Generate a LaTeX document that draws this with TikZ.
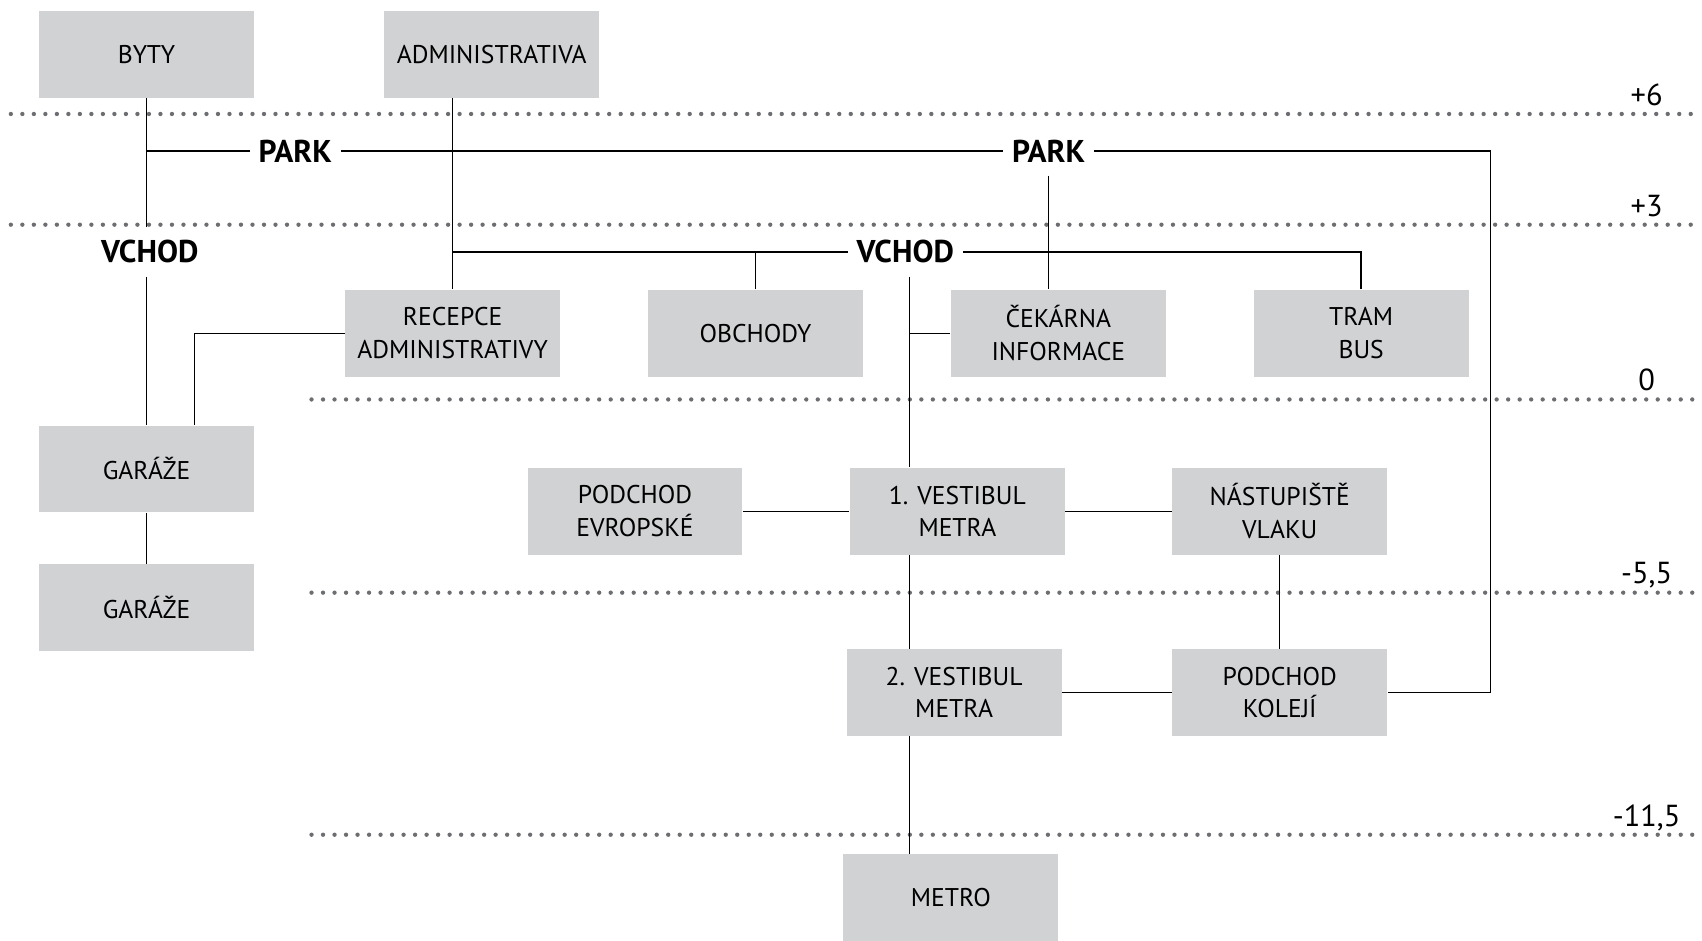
\documentclass[tikz,border=0pt]{standalone}
\usepackage{fontspec}
\setmainfont{PT Sans}
\definecolor{boxgray}{HTML}{D1D2D4}
\definecolor{dotgray}{HTML}{6D6E71}
\tikzset{
	room/.style={fill=boxgray, minimum width=99pt, minimum height=40pt, inner sep=0pt, align=center, font=\fontsize{11.8}{15}\selectfont},
	floorlab/.style={font=\bfseries\fontsize{14.5}{16}\selectfont, inner xsep=4pt, inner ysep=6pt},
	levellab/.style={anchor=base, font=\fontsize{14}{16}\selectfont},
	level/.style={dotgray, line width=2pt, line cap=round, dash pattern=on 0pt off 5.3pt},
	link/.style={line width=0.65pt}
}

\begin{document}
\begin{tikzpicture}[x=0.5pt, y=-0.5pt]
	\useasboundingbox (0,0) rectangle (1568,866);
	% floor levels
	\foreach \y/\xs/\h in {105/10/+6, 207/10/+3, 368/287/0, 546/287/{-5,5}, 769/287/{-11,5}} {
		\draw[level] (\xs,\y) -- (1568,\y);
		\node[levellab] (lev\y) at (1517,\y-8) {\h};
	}
	% rooms
	\node[room] (byty) at (135,50) {BYTY};
	\node[room] (admin) at (453,50) {ADMINISTRATIVA};
	\node[room] (recepce) at (417,307) {RECEPCE\\ADMINISTRATIVY};
	\node[room] (obchody) at (696,307) {OBCHODY};
	\node[room] (cekarna) at (975,307) {ČEKÁRNA\\INFORMACE};
	\node[room] (tram) at (1254,307) {TRAM\\BUS};
	\node[room] (garaze1) at (135,432) {GARÁŽE};
	\node[room] (garaze2) at (135,560) {GARÁŽE};
	\node[room] (podchodE) at (585,471) {PODCHOD\\EVROPSKÉ};
	\node[room] (vest1) at (882,471) {1. VESTIBUL\\METRA};
	\node[room] (nastup) at (1179,471) {NÁSTUPIŠTĚ\\VLAKU};
	\node[room] (vest2) at (879,638) {2. VESTIBUL\\METRA};
	\node[room] (podchodK) at (1179,638) {PODCHOD\\KOLEJÍ};
	\node[room] (metro) at (876,827) {METRO};
	% entrances
	\node[floorlab] (parkL) at (272,139) {PARK};
	\node[floorlab] (parkR) at (966,139) {PARK};
	\node[floorlab] (vchodL) at (138,232) {VCHOD};
	\node[floorlab] (vchodR) at (834,232) {VCHOD};
	\coordinate (edge) at (1373,139);
	\coordinate (axis) at (838,232);
	% links
	\draw[link] (byty.south) -- (byty.south |- vchodL.north);
	\draw[link] (byty.south |- vchodL.south) -- (garaze1.north);
	\draw[link] (byty.south |- parkL) -- (parkL.west);
	\draw[link] (parkL.east) -- (parkR.west);
	\draw[link] (parkR.east) -- (edge) |- (podchodK.east);
	\draw[link] (admin.south -| recepce.north) -- (recepce.north);
	\draw[link] (recepce.north |- vchodR) -- (vchodR.west);
	\draw[link] (vchodR.east) -| (tram.north);
	\draw[link] (obchody.north) -- (obchody.north |- vchodR);
	\draw[link] (parkR.south) -- (parkR.south |- cekarna.north);
	\draw[link] (axis |- vchodR.south) -- (axis |- vest1.north);
	\draw[link] (axis |- cekarna.west) -- (cekarna.west);
	\draw[link] (recepce.west) -| ([xshift=22pt]garaze1.north);
	\draw[link] (garaze1) -- (garaze2);
	\draw[link] (podchodE) -- (vest1);
	\draw[link] (vest1) -- (nastup);
	\draw[link] (nastup) -- (podchodK);
	\draw[link] (vest2) -- (podchodK);
	\draw[link] (axis |- vest1.south) -- (axis |- vest2.north);
	\draw[link] (axis |- vest2.south) -- (axis |- metro.north);
\end{tikzpicture}
\end{document}
